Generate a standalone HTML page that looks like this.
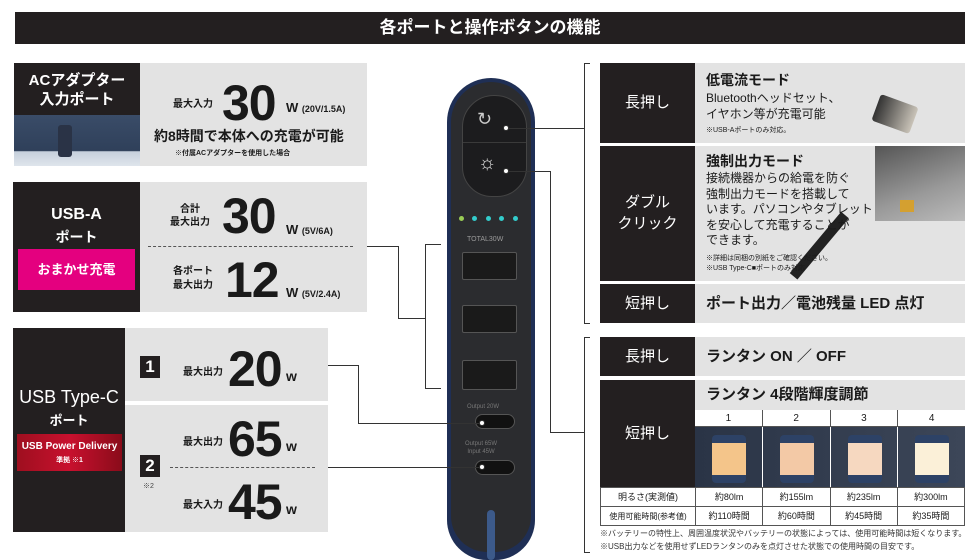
<!DOCTYPE html>
<html><head><meta charset="utf-8"><style>
*{margin:0;padding:0;box-sizing:border-box}
body{width:980px;height:560px;background:#fff;position:relative;overflow:hidden;font-family:"Liberation Sans","Noto Sans CJK JP",sans-serif;color:#1a1a1a}
.a{position:absolute}
.dk{background:#231f20;color:#fff}
.gr{background:#e3e3e3}
.b{font-weight:bold}
.c{text-align:center}
.big{font-size:50px;font-weight:900;letter-spacing:-1px;line-height:1}
.ln{background:#333}
.dot{width:6px;height:6px;border-radius:50%;background:#fff;border:1px solid #333}
td{border:1px solid #555;text-align:center;font-size:9px;height:19px;padding:0;white-space:nowrap;line-height:17px}
</style></head><body>
<div class="a dk c b" style="left:15px;top:12px;width:950px;height:32px;font-size:17px;line-height:32px">各ポートと操作ボタンの機能</div>

<!-- AC -->
<div class="a dk c b" style="left:14px;top:63px;width:126px;height:52px;font-size:15px;line-height:19px;padding-top:8px">ACアダプター<br>入力ポート</div>
<div class="a" style="left:14px;top:115px;width:126px;height:51px;background:linear-gradient(180deg,#3a4c68 0%,#2f405a 70%,#c6d0dc 72%,#dfe5ec 100%)"></div>
<div class="a" style="left:58px;top:125px;width:14px;height:32px;background:#2a3346;border-radius:3px"></div>
<div class="a gr" style="left:140px;top:63px;width:227px;height:103px"></div>
<div class="a b" style="left:173px;top:95px;font-size:10px">最大入力</div>
<div class="a big" style="left:222px;top:78px">30</div>
<div class="a b" style="left:286px;top:100px;font-size:13px">W <span style="font-size:9px">(20V/1.5A)</span></div>
<div class="a b" style="left:154px;top:126px;font-size:14px">約8時間で本体への充電が可能</div>
<div class="a b" style="left:175px;top:148px;font-size:7px">※付属ACアダプターを使用した場合</div>

<!-- USB-A -->
<div class="a dk c b" style="left:13px;top:182px;width:127px;height:130px;font-size:16px;line-height:22px;padding-top:22px">USB-A<br><span style="font-size:14px">ポート</span></div>
<div class="a c b" style="left:18px;top:249px;width:117px;height:41px;background:#e4007f;color:#fff;font-size:13px;line-height:41px">おまかせ充電</div>
<div class="a gr" style="left:140px;top:182px;width:227px;height:130px"></div>
<div class="a b c" style="left:170px;top:203px;font-size:10px;line-height:13px">合計<br>最大出力</div>
<div class="a big" style="left:222px;top:191px">30</div>
<div class="a b" style="left:286px;top:222px;font-size:13px">W <span style="font-size:9px">(5V/6A)</span></div>
<div class="a" style="left:148px;top:246px;width:205px;border-top:1px dashed #555"></div>
<div class="a b" style="left:173px;top:265px;font-size:10px;line-height:14px">各ポート<br>最大出力</div>
<div class="a big" style="left:225px;top:255px">12</div>
<div class="a b" style="left:286px;top:285px;font-size:13px">W <span style="font-size:9px">(5V/2.4A)</span></div>

<!-- USB-C -->
<div class="a dk c" style="left:13px;top:328px;width:112px;height:204px;font-size:18px;padding-top:58px;line-height:22px">USB Type-C<br><span class="b" style="font-size:13px">ポート</span></div>
<div class="a c b" style="left:17px;top:434px;width:105px;height:37px;background:linear-gradient(90deg,#9e0f1f,#c8102e,#8a0c1a);color:#fff;font-size:10px;line-height:13px;padding-top:6px">USB Power Delivery<br><span style="font-size:7px">準拠 ※1</span></div>
<div class="a gr" style="left:125px;top:328px;width:203px;height:73px"></div>
<div class="a gr" style="left:125px;top:405px;width:203px;height:127px"></div>
<div class="a dk c b" style="left:140px;top:356px;width:20px;height:22px;font-size:17px;line-height:22px">1</div>
<div class="a b" style="left:183px;top:363px;font-size:10px">最大出力</div>
<div class="a big" style="left:228px;top:344px">20</div>
<div class="a b" style="left:286px;top:368px;font-size:14px">w</div>
<div class="a b" style="left:183px;top:433px;font-size:10px">最大出力</div>
<div class="a big" style="left:228px;top:414px">65</div>
<div class="a b" style="left:286px;top:438px;font-size:14px">w</div>
<div class="a dk c b" style="left:140px;top:455px;width:20px;height:22px;font-size:17px;line-height:22px">2</div>
<div class="a" style="left:143px;top:481px;font-size:7px;color:#444">※2</div>
<div class="a" style="left:170px;top:467px;width:145px;border-top:1px dashed #555"></div>
<div class="a b" style="left:183px;top:496px;font-size:10px">最大入力</div>
<div class="a big" style="left:228px;top:477px">45</div>
<div class="a b" style="left:286px;top:501px;font-size:14px">w</div>

<!-- device -->
<div class="a" style="left:447px;top:78px;width:88px;height:482px;background:#1f2f55;border-radius:44px 44px 40px 40px"></div>
<div class="a" style="left:451px;top:82px;width:80px;height:470px;background:#2b2c2f;border-radius:40px 40px 36px 36px"></div>
<div class="a" style="left:462px;top:95px;width:65px;height:102px;background:#1c1c1e;border:1px solid #444;border-radius:32px 32px 30px 30px"></div>
<div class="a" style="left:463px;top:142px;width:63px;border-top:1px solid #3a3a3a"></div>
<div class="a" style="left:477px;top:109px;color:#ccc;font-size:18px">↻</div>
<div class="a" style="left:478px;top:152px;color:#ddd;font-size:20px">☼</div>
<div class="a" style="left:459px;top:216px;width:5px;height:5px;border-radius:50%;background:#9c5"></div>
<div class="a" style="left:472px;top:216px;width:5px;height:5px;border-radius:50%;background:#3cc"></div>
<div class="a" style="left:486px;top:216px;width:5px;height:5px;border-radius:50%;background:#3cc"></div>
<div class="a" style="left:499px;top:216px;width:5px;height:5px;border-radius:50%;background:#3cc"></div>
<div class="a" style="left:513px;top:216px;width:5px;height:5px;border-radius:50%;background:#3cc"></div>
<div class="a" style="left:467px;top:236px;font-size:7px;color:#999">TOTAL30W</div>
<div class="a" style="left:462px;top:252px;width:55px;height:28px;background:#1a1a1a;border:1px solid #555;border-radius:2px"></div>
<div class="a" style="left:462px;top:305px;width:55px;height:28px;background:#1a1a1a;border:1px solid #555;border-radius:2px"></div>
<div class="a" style="left:462px;top:360px;width:55px;height:30px;background:#1a1a1a;border:1px solid #555;border-radius:2px"></div>
<div class="a" style="left:467px;top:404px;font-size:6px;color:#777">Output 20W</div>
<div class="a" style="left:475px;top:414px;width:40px;height:15px;background:#111;border:1px solid #555;border-radius:8px"></div>
<div class="a c" style="left:465px;top:440px;font-size:6px;color:#777;line-height:8px">Output 65W<br>Input 45W</div>
<div class="a" style="left:475px;top:460px;width:40px;height:15px;background:#111;border:1px solid #555;border-radius:8px"></div>
<div class="a" style="left:487px;top:510px;width:8px;height:50px;background:#3c5a8a;border-radius:4px"></div>

<!-- connectors -->
<div class="a ln" style="left:367px;top:246px;width:31px;height:1px"></div>
<div class="a ln" style="left:398px;top:246px;width:1px;height:72px"></div>
<div class="a ln" style="left:398px;top:318px;width:27px;height:1px"></div>
<div class="a ln" style="left:425px;top:244px;width:1px;height:145px"></div>
<div class="a ln" style="left:425px;top:244px;width:16px;height:1px"></div>
<div class="a ln" style="left:425px;top:388px;width:16px;height:1px"></div>
<div class="a ln" style="left:328px;top:365px;width:30px;height:1px"></div>
<div class="a ln" style="left:358px;top:365px;width:1px;height:58px"></div>
<div class="a ln" style="left:358px;top:423px;width:124px;height:1px"></div>
<div class="a ln" style="left:328px;top:467px;width:154px;height:1px"></div>
<div class="a dot" style="left:479px;top:420px"></div>
<div class="a dot" style="left:479px;top:464px"></div>
<div class="a ln" style="left:506px;top:128px;width:78px;height:1px"></div>
<div class="a dot" style="left:503px;top:125px"></div>
<div class="a ln" style="left:584px;top:63px;width:1px;height:261px"></div>
<div class="a ln" style="left:584px;top:63px;width:6px;height:1px"></div>
<div class="a ln" style="left:584px;top:323px;width:6px;height:1px"></div>
<div class="a ln" style="left:506px;top:171px;width:44px;height:1px"></div>
<div class="a dot" style="left:503px;top:168px"></div>
<div class="a ln" style="left:550px;top:171px;width:1px;height:261px"></div>
<div class="a ln" style="left:550px;top:432px;width:34px;height:1px"></div>
<div class="a ln" style="left:584px;top:337px;width:1px;height:216px"></div>
<div class="a ln" style="left:584px;top:337px;width:6px;height:1px"></div>
<div class="a ln" style="left:584px;top:552px;width:6px;height:1px"></div>

<!-- right top -->
<div class="a dk c" style="left:600px;top:63px;width:95px;height:80px;font-size:15px;line-height:80px">長押し</div>
<div class="a gr" style="left:695px;top:63px;width:270px;height:80px"></div>
<div class="a b" style="left:706px;top:70px;font-size:14px">低電流モード</div>
<div class="a" style="left:706px;top:90px;font-size:12px;line-height:16px">Bluetoothヘッドセット、<br>イヤホン等が充電可能</div>
<div class="a" style="left:706px;top:125px;font-size:7px">※USB-Aポートのみ対応。</div>
<div class="a" style="left:875px;top:100px;width:40px;height:28px;background:linear-gradient(90deg,#333,#c9c3b8);border-radius:3px;transform:rotate(20deg)"></div>
<div class="a dk c" style="left:600px;top:146px;width:95px;height:135px;font-size:15px;line-height:21px;padding-top:46px">ダブル<br>クリック</div>
<div class="a gr" style="left:695px;top:146px;width:270px;height:135px"></div>
<div class="a" style="left:875px;top:146px;width:90px;height:75px;background:linear-gradient(160deg,#555,#999 60%,#bbb)"></div>
<div class="a" style="left:900px;top:200px;width:14px;height:12px;background:#d4a030"></div>
<div class="a" style="left:840px;top:215px;width:10px;height:80px;background:#222;transform:rotate(40deg);transform-origin:top"></div>
<div class="a b" style="left:706px;top:151px;font-size:14px">強制出力モード</div>
<div class="a" style="left:706px;top:171px;font-size:12px;line-height:15.5px">接続機器からの給電を防ぐ<br>強制出力モードを搭載して<br>います。パソコンやタブレット<br>を安心して充電することが<br>できます。</div>
<div class="a" style="left:706px;top:254px;font-size:7px;line-height:10px">※詳細は同梱の別紙をご確認ください。<br>※USB Type-C■ポートのみ対応</div>
<div class="a dk c" style="left:600px;top:284px;width:95px;height:39px;font-size:15px;line-height:39px">短押し</div>
<div class="a gr b" style="left:695px;top:284px;width:270px;height:39px;font-size:15px;line-height:39px;padding-left:11px">ポート出力／電池残量 LED 点灯</div>

<!-- right bottom -->
<div class="a dk c" style="left:600px;top:337px;width:95px;height:39px;font-size:15px;line-height:39px">長押し</div>
<div class="a gr b" style="left:695px;top:337px;width:270px;height:39px;font-size:15px;line-height:39px;padding-left:11px">ランタン ON ／ OFF</div>
<div class="a dk c" style="left:600px;top:380px;width:95px;height:107px;font-size:15px;line-height:107px">短押し</div>
<div class="a gr b" style="left:695px;top:380px;width:270px;height:30px;font-size:15px;line-height:30px;padding-left:11px">ランタン 4段階輝度調節</div>
<div class="a" style="left:695px;top:410px;width:270px;height:17px;background:#fff;display:flex;font-size:10px;line-height:17px;text-align:center;border-bottom:1px solid #555">
<div style="flex:1;border-right:1px solid #555">1</div><div style="flex:1;border-right:1px solid #555">2</div><div style="flex:1;border-right:1px solid #555">3</div><div style="flex:1">4</div></div>
<div class="a" style="left:695px;top:427px;width:270px;height:60px;background:linear-gradient(90deg,#2a3446,#3c4658);display:flex">
<div style="flex:1;border-right:1px solid #fff;position:relative"><div class="a" style="left:17px;top:8px;width:34px;height:48px;background:#f4c58a;border-top:8px solid #2d4266;border-bottom:8px solid #2d4266;border-radius:4px"></div></div>
<div style="flex:1;border-right:1px solid #fff;position:relative"><div class="a" style="left:17px;top:8px;width:34px;height:48px;background:#f3c9a6;border-top:8px solid #2d4266;border-bottom:8px solid #2d4266;border-radius:4px"></div></div>
<div style="flex:1;border-right:1px solid #fff;position:relative"><div class="a" style="left:17px;top:8px;width:34px;height:48px;background:#f6d8c0;border-top:8px solid #2d4266;border-bottom:8px solid #2d4266;border-radius:4px"></div></div>
<div style="flex:1;position:relative"><div class="a" style="left:17px;top:8px;width:34px;height:48px;background:#fbf0d8;border-top:8px solid #2d4266;border-bottom:8px solid #2d4266;border-radius:4px"></div></div>
</div>
<table class="a" style="left:600px;top:487px;width:365px;border-collapse:collapse;background:#fff;table-layout:fixed">
<tr><td style="width:95px">明るさ(実測値)</td><td>約80lm</td><td>約155lm</td><td>約235lm</td><td>約300lm</td></tr>
<tr><td style="font-size:8px">使用可能時間(参考値)</td><td>約110時間</td><td>約60時間</td><td>約45時間</td><td>約35時間</td></tr>
</table>
<div class="a" style="left:600px;top:527px;font-size:8px;line-height:13px;color:#333">※バッテリーの特性上、周囲温度状況やバッテリーの状態によっては、使用可能時間は短くなります。<br>※USB出力などを使用せずLEDランタンのみを点灯させた状態での使用時間の目安です。</div>
</body></html>
